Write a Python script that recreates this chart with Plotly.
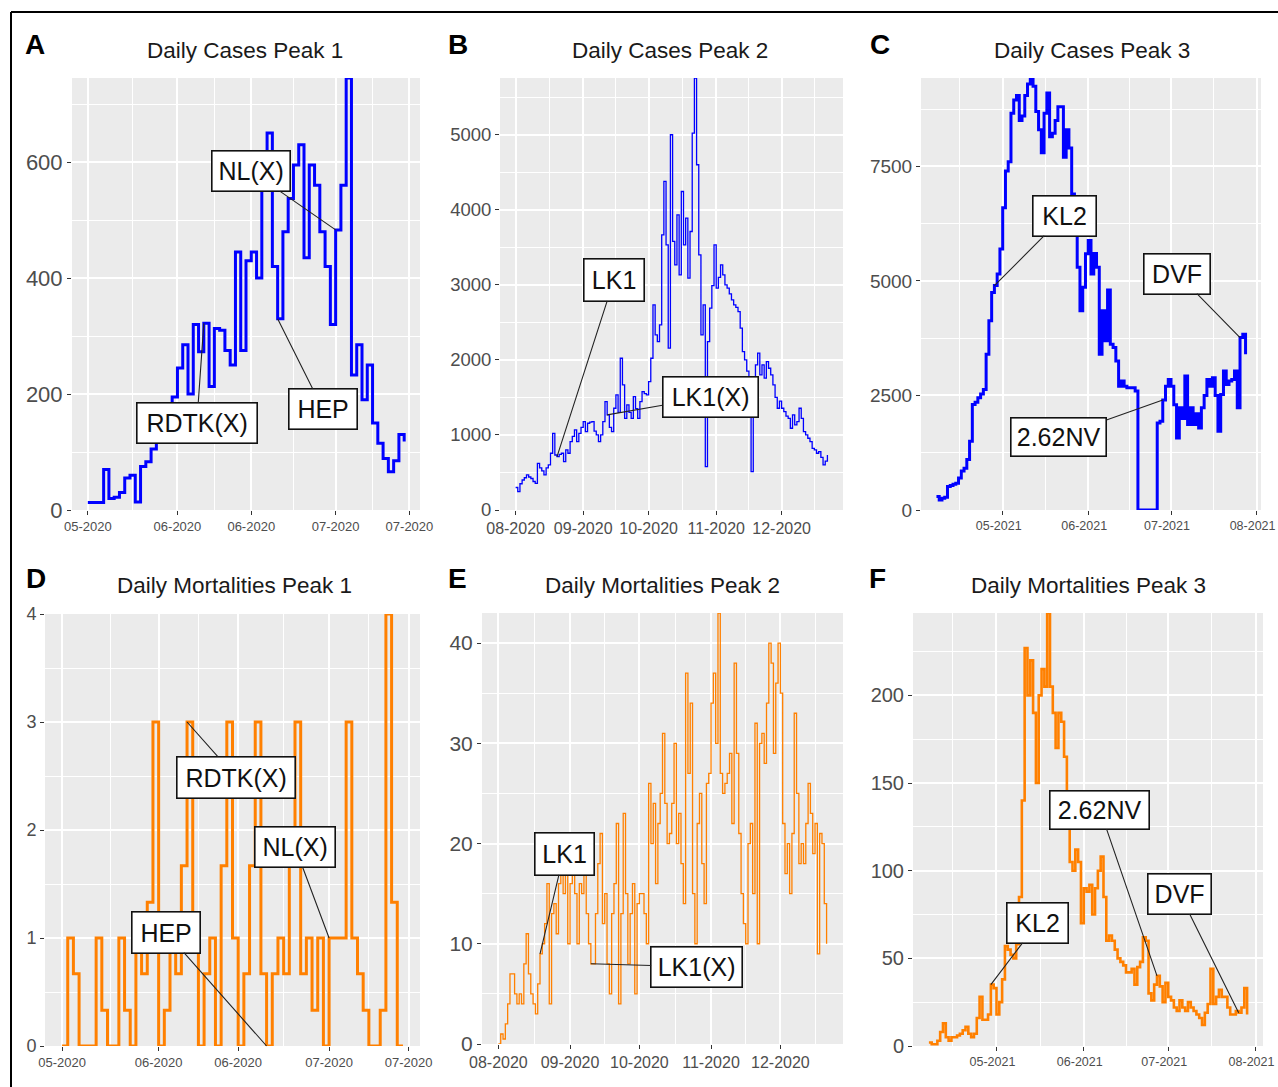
import pandas as pd
import plotly.graph_objects as go

W, H = 1278, 1087
FONT = "Liberation Sans, Arial, sans-serif"

# ---------------- data ----------------
peak1_start = "2020-05-15"
peak2_start = "2020-08-01"
peak3_start = "2021-04-07"

cases_peak1 = [13, 13, 13, 70, 20, 22, 30, 55, 60, 14,
               75, 83, 105, 130, 150, 175, 195, 245, 285, 200,
               320, 273, 322, 213, 313, 310, 275, 250, 445, 275,
               430, 445, 400, 600, 650, 420, 330, 480, 537, 595,
               630, 435, 595, 560, 480, 420, 320, 483, 560, 745,
               233, 285, 190, 250, 150, 115, 89, 66, 85, 130, 118]

cases_peak2 = [300, 245, 350, 400, 430, 467, 440, 420, 380, 356,
               622, 560, 520, 467, 560, 600, 756, 1022, 733, 711,
               740, 756, 644, 800, 756, 911, 980, 1067, 911, 1022,
               1100, 1178, 1044, 1156, 1170, 1178, 1050, 1000, 911, 1000,
               1178, 1444, 1267, 1100, 1044, 1356, 1533, 1300, 2022, 1667,
               1222, 1400, 1300, 1222, 1511, 1350, 1222, 1444, 1578, 1550,
               1533, 1711, 2022, 2733, 2333, 2244, 2467, 3667, 4378, 3533,
               2156, 5000, 3578, 3267, 3933, 3133, 4244, 3533, 3889, 3089,
               3711, 5022, 5756, 4600, 3400, 2333, 2733, 578, 2244, 2689,
               2989, 3533, 2956, 3100, 3267, 3133, 3000, 2956, 2880, 2800,
               2733, 2700, 2644, 2422, 2111, 2000, 1850, 1311, 511, 1356,
               1933, 2089, 1800, 1933, 1756, 1978, 1889, 1800, 1667, 1500,
               1356, 1450, 1356, 1311, 1250, 1222, 1089, 1267, 1133, 1178,
               1356, 1222, 1044, 1000, 956, 911, 822, 800, 756, 778,
               700, 600, 650, 733]

cases_peak3 = [292, 220, 256, 280, 512, 534, 560, 585, 700, 850,
               914, 1100, 1500, 2303, 2350, 2450, 2530, 2630, 3400, 4130,
               4750, 4900, 5150, 5700, 6600, 7400, 7600, 8660, 8950, 9050,
               8500, 8600, 9050, 9300, 9430, 9250, 8700, 8300, 7800, 8660,
               9100, 8150, 8224, 8500, 8800, 8800, 7700, 8300, 7900, 6900,
               6100, 5300, 4349, 4861, 5592, 5884, 5153, 5600, 5300, 3399,
               4349, 3692, 4800, 3618, 3545, 3253, 2700, 2814, 2700, 2668,
               2668, 2668, 2595, 0, 0, 0, 0, 0, 0, 0,
               1901, 1937, 2400, 2700, 2851, 2700, 2300, 1572, 2230, 2000,
               2924, 1864, 2230, 1864, 2100, 1791, 2230, 2500, 2851, 2700,
               2888, 2500, 1718, 2522, 3034, 2741, 2814, 2851, 3034, 2230,
               3765, 3838, 3400]

deaths_peak1 = [0, 1, 0.67, 0, 0, 0, 1, 0.33, 0, 0,
                1, 0.33, 0, 1, 0.67, 1.33, 3, 0, 0.33, 1,
                0.67, 1.67, 3, 1, 0, 0.67, 1, 0, 1.67, 3,
                1, 0, 0.67, 1.67, 3, 0.67, 0, 0.67, 1, 0.67,
                1.67, 3, 0.67, 1, 0.33, 1, 0, 1, 1, 1,
                3, 1, 0.67, 0.33, 0, 0, 0.33, 4, 1.33, 0, 0]

deaths_peak2 = [0, 1, 0.5, 2, 4, 7, 7, 5, 4, 5,
                4, 8, 11, 7, 5, 4, 3, 6, 9, 10,
                12, 16, 4, 13, 14, 11, 16, 17, 15, 18,
                10, 16, 17, 15, 10, 16, 15, 17, 13, 10,
                8, 8, 13, 18, 21, 12, 15, 8, 5, 13,
                16, 22, 4, 13, 23, 15, 8, 13, 16, 5,
                14, 15, 15, 13, 10, 26, 20, 24, 16, 22,
                25, 31, 24, 20, 21, 24, 30, 20, 23, 18,
                14, 37, 27, 34, 15, 10, 22, 25, 18, 14,
                26, 27, 34, 37, 30, 43, 27, 25, 26, 27,
                29, 22, 38, 29, 21, 15, 12, 10, 20, 22,
                15, 32, 10, 30, 31, 28, 34, 40, 38, 29,
                36, 40, 35, 22, 17, 20, 15, 21, 33, 25,
                18, 20, 18, 22, 26, 23, 19, 22, 9, 21,
                20, 14, 10]

deaths_peak3 = [2, 1, 1, 3, 8, 13, 5, 3, 5, 5,
                6, 7, 9, 11, 7, 5, 7, 16, 28, 15,
                15, 18, 35, 33, 18, 25, 38, 57, 55, 52,
                50, 58, 85, 140, 227, 200, 220, 190, 150, 200,
                215, 205, 247, 205, 190, 170, 190, 185, 165, 135,
                105, 100, 112, 105, 70, 90, 88, 92, 75, 90,
                100, 108, 85, 60, 63, 60, 55, 50, 48, 46,
                42, 42, 44, 35, 45, 48, 62, 60, 30, 26,
                35, 40, 34, 25, 36, 28, 26, 22, 20, 26,
                22, 20, 25, 22, 20, 18, 16, 12, 19, 24,
                44, 24, 28, 32, 28, 28, 22, 18, 18, 20,
                19, 22, 33, 18]

ticks_peak1 = ["2020-05-15", "2020-06-01", "2020-06-15", "2020-07-01", "2020-07-15"]
ticklabels_peak1 = ["05-2020", "06-2020", "06-2020", "07-2020", "07-2020"]
ticks_peak2 = ["2020-08-01", "2020-09-01", "2020-10-01", "2020-11-01", "2020-12-01"]
ticklabels_peak2 = ["08-2020", "09-2020", "10-2020", "11-2020", "12-2020"]
ticks_peak3 = ["2021-05-01", "2021-06-01", "2021-07-01", "2021-08-01"]
ticklabels_peak3 = ["05-2021", "06-2021", "07-2021", "08-2021"]

yticks_cases1 = [0, 200, 400, 600]
yticks_cases2 = [0, 1000, 2000, 3000, 4000, 5000]
yticks_cases3 = [0, 2500, 5000, 7500]
yticks_deaths1 = [0, 1, 2, 3, 4]
yticks_deaths2 = [0, 10, 20, 30, 40]
yticks_deaths3 = [0, 50, 100, 150, 200]

titles = ["Daily Cases Peak 1", "Daily Cases Peak 2", "Daily Cases Peak 3",
          "Daily Mortalities Peak 1", "Daily Mortalities Peak 2", "Daily Mortalities Peak 3"]
letters = ["A", "B", "C", "D", "E", "F"]

# labelled points: (label, day index in series)
labels_cases1 = [("NL(X)", 47), ("RDTK(X)", 22), ("HEP", 36)]
labels_cases2 = [("LK1", 19), ("LK1(X)", 42)]
labels_cases3 = [("KL2", 21), ("DVF", 110), ("2.62NV", 82)]
labels_deaths1 = [("RDTK(X)", 22), ("NL(X)", 47), ("HEP", 36)]
labels_deaths2 = [("LK1", 18), ("LK1(X)", 40)]
labels_deaths3 = [("KL2", 22), ("2.62NV", 81), ("DVF", 110)]

# ---------------- styling / layout ----------------
BLUE = "#0000FF"
ORANGE = "#FF8000"

panels = [
    dict(vals=cases_peak1, start=peak1_start, ticks=ticks_peak1, tl=ticklabels_peak1,
         yt=yticks_cases1, color=BLUE, lw=3.0, box=(72, 78, 420, 510),
         yfs=22, xfs=13, xshift=0, labels=labels_cases1,
         offs=[(-85, -59, 80, 42), (-7, 100, 122, 42), (45, 90, 70, 42)],
         title_xy=(245, 51), letter_xy=(35, 45)),
    dict(vals=cases_peak2, start=peak2_start, ticks=ticks_peak2, tl=ticklabels_peak2,
         yt=yticks_cases2, color=BLUE, lw=1.3, box=(500, 78, 843, 510),
         yfs=18.5, xfs=16, xshift=0, labels=labels_cases2,
         offs=[(57, -177, 62, 44), (103, -18, 97, 42)],
         title_xy=(670, 51), letter_xy=(458, 45)),
    dict(vals=cases_peak3, start=peak3_start, ticks=ticks_peak3, tl=ticklabels_peak3,
         yt=yticks_cases3, color=BLUE, lw=3.0, box=(921, 78, 1261, 510),
         yfs=19, xfs=12.5, xshift=-4, labels=labels_cases3,
         offs=[(70, -70, 65, 42), (-63, -64, 68, 42), (-104, 37, 97, 40)],
         title_xy=(1092, 51), letter_xy=(880, 45)),
    dict(vals=deaths_peak1, start=peak1_start, ticks=ticks_peak1, tl=ticklabels_peak1,
         yt=yticks_deaths1, color=ORANGE, lw=3.0, box=(45, 614, 420, 1046),
         yfs=18, xfs=13, xshift=0, labels=labels_deaths1,
         offs=[(49, 55, 120, 43), (-34, -91, 82, 42), (-101, -114, 70, 43)],
         title_xy=(234, 585), letter_xy=(36, 578)),
    dict(vals=deaths_peak2, start=peak2_start, ticks=ticks_peak2, tl=ticklabels_peak2,
         yt=yticks_deaths2, color=ORANGE, lw=1.3, box=(482, 613, 843, 1044),
         yfs=21, xfs=16, xshift=0, labels=labels_deaths2,
         offs=[(24, -100, 61, 44), (106, 3, 93, 42)],
         title_xy=(662, 585), letter_xy=(457, 578)),
    dict(vals=deaths_peak3, start=peak3_start, ticks=ticks_peak3, tl=ticklabels_peak3,
         yt=yticks_deaths3, color=ORANGE, lw=2.6, box=(913, 613, 1263, 1046),
         yfs=20, xfs=12.5, xshift=-4, labels=labels_deaths3,
         offs=[(47, -62, 63, 42), (-57, -166, 101, 40), (-59, -119, 65, 42)],
         title_xy=(1088, 585), letter_xy=(877, 578)),
]

fig = go.Figure()
annotations = []
layout_axes = {}


def mids(vals):
    out = []
    for a, b in zip(vals[:-1], vals[1:]):
        out.append(a + (b - a) / 2)
    step0 = (vals[1] - vals[0]) / 2
    step1 = (vals[-1] - vals[-2]) / 2
    return [vals[0] - step0] + out + [vals[-1] + step1]


for i, p in enumerate(panels, start=1):
    dates = pd.date_range(p["start"], periods=len(p["vals"]), freq="D")
    xa, ya = f"x{i}", f"y{i}"
    fig.add_trace(go.Scatter(x=dates, y=p["vals"], mode="lines",
                             line=dict(color=p["color"], width=p["lw"], shape="hv"),
                             xaxis=xa, yaxis=ya, showlegend=False, hoverinfo="skip"))

    span = dates[-1] - dates[0]
    pad = span * 0.05
    lo, hi = dates[0] - pad, dates[-1] + pad
    xr = [lo.isoformat(), hi.isoformat()]
    tick_ts = pd.to_datetime(p["ticks"])
    minor_x = [t.isoformat() for t in mids(list(tick_ts)) if lo < t < hi]

    ymax = max(p["vals"])
    yt = p["yt"]
    minor_y = [v for v in mids(yt) if 0 < v < ymax]

    x0, y0, x1, y1 = p["box"]
    xdom = [x0 / W, x1 / W]
    ydom = [1 - y1 / H, 1 - y0 / H]

    layout_axes[f"xaxis{i}"] = dict(
        domain=xdom, anchor=ya, type="date", range=xr, automargin=False,
        tickmode="array", tickvals=p["ticks"], ticktext=p["tl"],
        ticklabeloverflow="allow", ticklabelshift=p["xshift"],
        ticks="outside", ticklen=4, tickwidth=1, tickcolor="#333333",
        tickfont=dict(family=FONT, size=p["xfs"], color="#4D4D4D"),
        showgrid=True, gridcolor="white", gridwidth=1.5,
        minor=dict(tickmode="array", tickvals=minor_x, showgrid=True,
                   gridcolor="white", gridwidth=0.7, ticks=""),
        showline=False, zeroline=False, fixedrange=True,
    )
    layout_axes[f"yaxis{i}"] = dict(
        domain=ydom, anchor=xa, range=[0, ymax], automargin=False,
        tickmode="array", tickvals=yt, ticktext=[str(v) for v in yt],
        ticklabeloverflow="allow",
        ticks="outside", ticklen=4, tickwidth=1, tickcolor="#333333",
        tickfont=dict(family=FONT, size=p["yfs"], color="#4D4D4D"),
        showgrid=True, gridcolor="white", gridwidth=1.5,
        minor=dict(tickmode="array", tickvals=minor_y, showgrid=True,
                   gridcolor="white", gridwidth=0.7, ticks=""),
        showline=False, zeroline=False, fixedrange=True,
    )

    # title & panel letter
    tx, ty = p["title_xy"]
    annotations.append(dict(x=tx / W, y=1 - ty / H, xref="paper", yref="paper",
                            text=titles[i - 1], showarrow=False,
                            xanchor="center", yanchor="middle",
                            font=dict(family=FONT, size=22.5, color="#1A1A1A")))
    lx, ly = p["letter_xy"]
    annotations.append(dict(x=lx / W, y=1 - ly / H, xref="paper", yref="paper",
                            text=f"<b>{letters[i - 1]}</b>", showarrow=False,
                            xanchor="center", yanchor="middle",
                            font=dict(family=FONT, size=28, color="black")))

    # labelled points
    for (txt, d), (ax, ay, bw, bh) in zip(p["labels"], p["offs"]):
        annotations.append(dict(
            x=dates[d], y=p["vals"][d], xref=xa, yref=ya,
            text=txt, showarrow=True, arrowhead=0, arrowwidth=1.1,
            arrowcolor="#222222", ax=ax, ay=ay,
            bgcolor="white", bordercolor="#111111", borderwidth=1.6,
            borderpad=2, width=bw - 7, height=bh - 7,
            font=dict(family=FONT, size=25, color="#111111"),
        ))

fig.update_layout(
    width=W, height=H, autosize=False,
    margin=dict(l=0, r=0, t=0, b=0, pad=0, autoexpand=False),
    paper_bgcolor="white", plot_bgcolor="#EBEBEB",
    annotations=annotations,
    shapes=[
        dict(type="line", xref="paper", yref="paper", x0=11 / W, x1=1.0,
             y0=1 - 12 / H, y1=1 - 12 / H, line=dict(color="black", width=2)),
        dict(type="line", xref="paper", yref="paper", x0=11 / W, x1=11 / W,
             y0=0, y1=1 - 12 / H, line=dict(color="black", width=2)),
    ],
    **layout_axes,
)

fig.write_html("out.html")
